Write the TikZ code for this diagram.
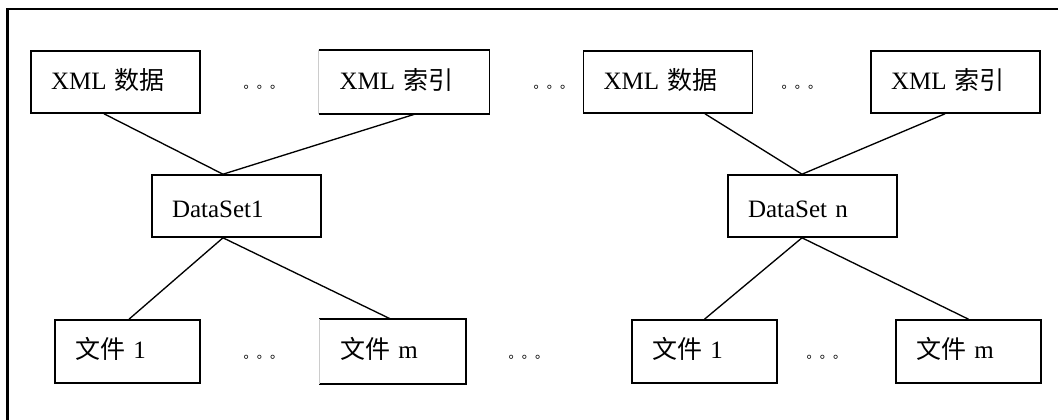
\documentclass[tikz,border=0pt]{standalone}
\usepackage{fontspec}
\setmainfont{Liberation Serif}
\newfontfamily\cjk{Noto Sans CJK SC}
\usetikzlibrary{positioning, calc}
\tikzstyle{box} = [rectangle, draw=black, line width=1.2pt, inner xsep=15pt, inner ysep=0pt, text width=96.75pt, align=left, minimum height=46.5pt, text height=1.3em, text depth=.2em]
\tikzstyle{filebox} = [box, text width=78.75pt, minimum height=47.25pt]
\tikzstyle{setbox} = [box, text height=1.88em]
\tikzstyle{dots} = [font=\cjk\fontsize{10}{12}\selectfont, inner sep=0pt]
\tikzstyle{line} = [line width=1pt]
\tikzstyle{frame} = [line width=1.6pt]

\begin{document}
\begin{tikzpicture}[x=0.75pt, y=-0.75pt, font=\fontsize{18.75}{22}\selectfont]
				\useasboundingbox (0,0) rectangle (1058,419);
				\clip (0,0) rectangle (1058,419);
				\draw [frame] (7.5,9) rectangle (1090,440);
				\node (xdata1)[box] at (115.5,82) {XML {\cjk 数据}};
				\node (xidx1)[box, draw=none] at (404,82) {XML {\cjk 索引}};
				\node (xdata2)[box] at (668,82) {XML {\cjk 数据}};
				\node (xidx2)[box] at (955.5,82) {XML {\cjk 索引}};
				\node (set1)[setbox] at (236.5,206) {DataSet1};
				\node (setn)[setbox] at (812.5,206) {DataSet n};
				\node (file11)[filebox] at (127.5,351.5) {{\cjk 文件} 1};
				\node (file1m)[filebox, draw=none] at (392.5,351.5) {{\cjk 文件} m};
				\node (filen1)[filebox] at (704.5,351.5) {{\cjk 文件} 1};
				\node (filenm)[filebox] at (968.5,351.5) {{\cjk 文件} m};
				\node (dots1)[dots] at (263.5,87) {。。。};
				\node (dots2)[dots] at (553.5,87) {。。。};
				\node (dots3)[dots] at (801.5,87) {。。。};
				\node (dots4)[dots] at (263.5,357) {。。。};
				\node (dots5)[dots] at (528.5,357) {。。。};
				\node (dots6)[dots] at (826.5,357) {。。。};
				% these two boxes only have a faint left side
				\draw [line width=1.2pt] (xidx1.north west) -| (xidx1.south east) -- (xidx1.south west);
				\draw [gray!40, thin] (xidx1.north west) -- (xidx1.south west);
				\draw [line width=1.2pt] (file1m.north west) -| (file1m.south east) -- (file1m.south west);
				\draw [gray!40, thin] (file1m.north west) -- (file1m.south west);
				\draw [line] ($(xdata1.south)+(-11.5,0)$) -- ($(set1.north)+(-13.5,0)$);
				\draw [line] ($(xidx1.south)+(12,0)$) -- ($(set1.north)+(-13.5,0)$);
				\draw [line] ($(xdata2.south)+(37,0)$) -- ($(setn.north)+(-10.5,0)$);
				\draw [line] ($(xidx2.south)+(-10.5,0)$) -- ($(setn.north)+(-10.5,0)$);
				\draw [line] ($(set1.south)+(-13.5,0)$) -- ($(file11.north)+(1.5,0)$);
				\draw [line] ($(set1.south)+(-13.5,0)$) -- ($(file1m.north)+(-1.5,0)$);
				\draw [line] ($(setn.south)+(-10.5,0)$) -- (filen1.north);
				\draw [line] ($(setn.south)+(-10.5,0)$) -- (filenm.north);
			\end{tikzpicture}
\end{document}
